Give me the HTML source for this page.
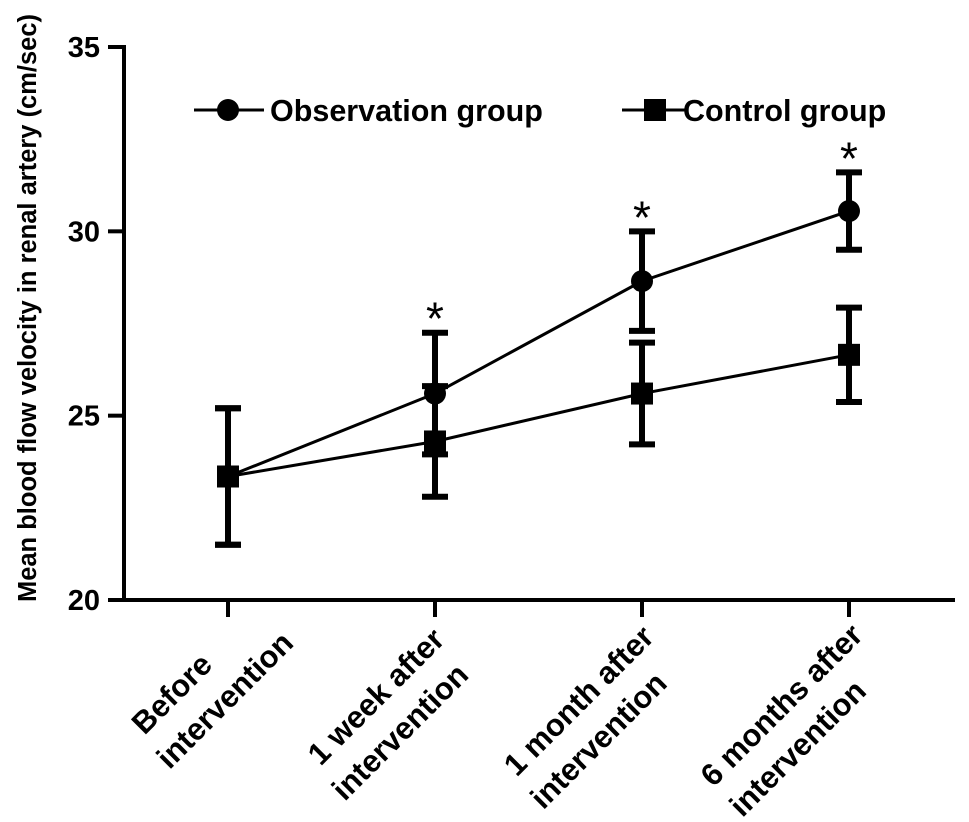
<!DOCTYPE html>
<html><head><meta charset="utf-8"><style>
html,body{margin:0;padding:0;background:#fff}
svg{display:block;font-family:"Liberation Sans",Arial,sans-serif;font-weight:bold}
</style></head><body>
<svg id="chart" width="969" height="822" viewBox="0 0 969 822" xmlns="http://www.w3.org/2000/svg">
<g id="axes"></g>
<g id="marks"></g>
<g>
  <g>
    <line x1="194" y1="110" x2="264" y2="110" stroke="#000" stroke-width="3"/>
    <circle cx="228" cy="110" r="11" fill="#000"/>
    <text x="270" y="121" font-size="30.5">Observation group</text>
  </g>
  <g>
    <line x1="622" y1="110" x2="688" y2="110" stroke="#000" stroke-width="3"/>
    <rect x="644" y="99" width="22" height="22" fill="#000"/>
    <text x="683" y="121" font-size="30.5">Control group</text>
  </g>
</g>
<text transform="translate(36,308) rotate(-90)" text-anchor="middle" font-size="25.5">Mean blood flow velocity in renal artery (cm/sec)</text>
</svg>
<script>
const categories = [["Before","intervention"],["1 week after","intervention"],["1 month after","intervention"],["6 months after","intervention"]];
const obsMean = [23.35, 25.6, 28.65, 30.55];
const obsErr = [1.85, 1.65, 1.35, 1.05];
const ctlMean = [23.35, 24.3, 25.6, 26.65];
const ctlErr = [1.85, 1.5, 1.38, 1.28];
const significant = [false, true, true, true];
const yTicks = [20, 25, 30, 35];

const NS = "http://www.w3.org/2000/svg";
const yMin = 20, yMax = 35, yTop = 47, yBot = 600;
const labelShift = [[-106,-73],[-110,-118],[-116,-130],[-122,-141]];
function yScale(v){ return yBot - (v - yMin) / (yMax - yMin) * (yBot - yTop); }
function xScale(i){ return 228 + i * 207; }
function mk(tag, attrs, parent){ const e = document.createElementNS(NS, tag); for (const k in attrs) e.setAttribute(k, attrs[k]); parent.appendChild(e); return e; }

const axes = document.getElementById('axes');
const marks = document.getElementById('marks');
let yl = mk('line', {x1:124,y1:yTop-2,x2:124,y2:yBot+2,stroke:'#000','stroke-width':4}, axes);


let xl = mk('line', {x1:108,y1:yBot,x2:955,y2:yBot,stroke:'#000','stroke-width':4}, axes);


yTicks.forEach(t => {
  const y = yScale(t);
  const tk = mk('line', {x1:108,y1:y,x2:124,y2:y,stroke:'#000','stroke-width':4}, axes);
  
  
  const lb = mk('text', {x:100,y:y+10,'text-anchor':'end','font-size':29}, axes);
  lb.textContent = t;
  
  
});
categories.forEach((c, i) => {
  const x = xScale(i);
  const tk = mk('line', {x1:x,y1:yBot,x2:x,y2:617,stroke:'#000','stroke-width':4}, axes);
  
  
  const g = mk('g', {transform:`translate(${x},${yBot}) rotate(-45)`}, axes);
  
  
  c.forEach((s, j) => {
    const t = mk('text', {x:labelShift[i][j],y:37+j*42,'text-anchor':'middle','font-size':31}, g);
    t.textContent = s;
  });
});

function series(mean, err, shape, name){
  const pts = mean.map((v, i) => xScale(i) + ',' + yScale(v)).join(' ');
  const pl = mk('polyline', {points:pts,fill:'none',stroke:'#000','stroke-width':3}, marks);
  
  
  mean.forEach((v, i) => {
    const x = xScale(i), y1 = yScale(v + err[i]), y2 = yScale(v - err[i]);
    const eb = mk('path', {d:`M${x},${y1}V${y2}M${x-13},${y1}H${x+13}M${x-13},${y2}H${x+13}`,stroke:'#000','stroke-width':6,fill:'none'}, marks);
    
    
    let m;
    if (shape === 'circle') m = mk('circle', {cx:x,cy:yScale(v),r:11,fill:'#000'}, marks);
    else m = mk('rect', {x:x-11,y:yScale(v)-11,width:22,height:22,fill:'#000'}, marks);
    
    
  });
}
series(ctlMean, ctlErr, 'square', 'control');
series(obsMean, obsErr, 'circle', 'observation');
significant.forEach((s, i) => {
  if (!s) return;
  const t = mk('text', {x:xScale(i),y:yScale(obsMean[i] + obsErr[i]) + 2,'text-anchor':'middle','font-size':46,'font-weight':'normal'}, marks);
  t.textContent = '*';
  
  
});
</script>
</body></html>
